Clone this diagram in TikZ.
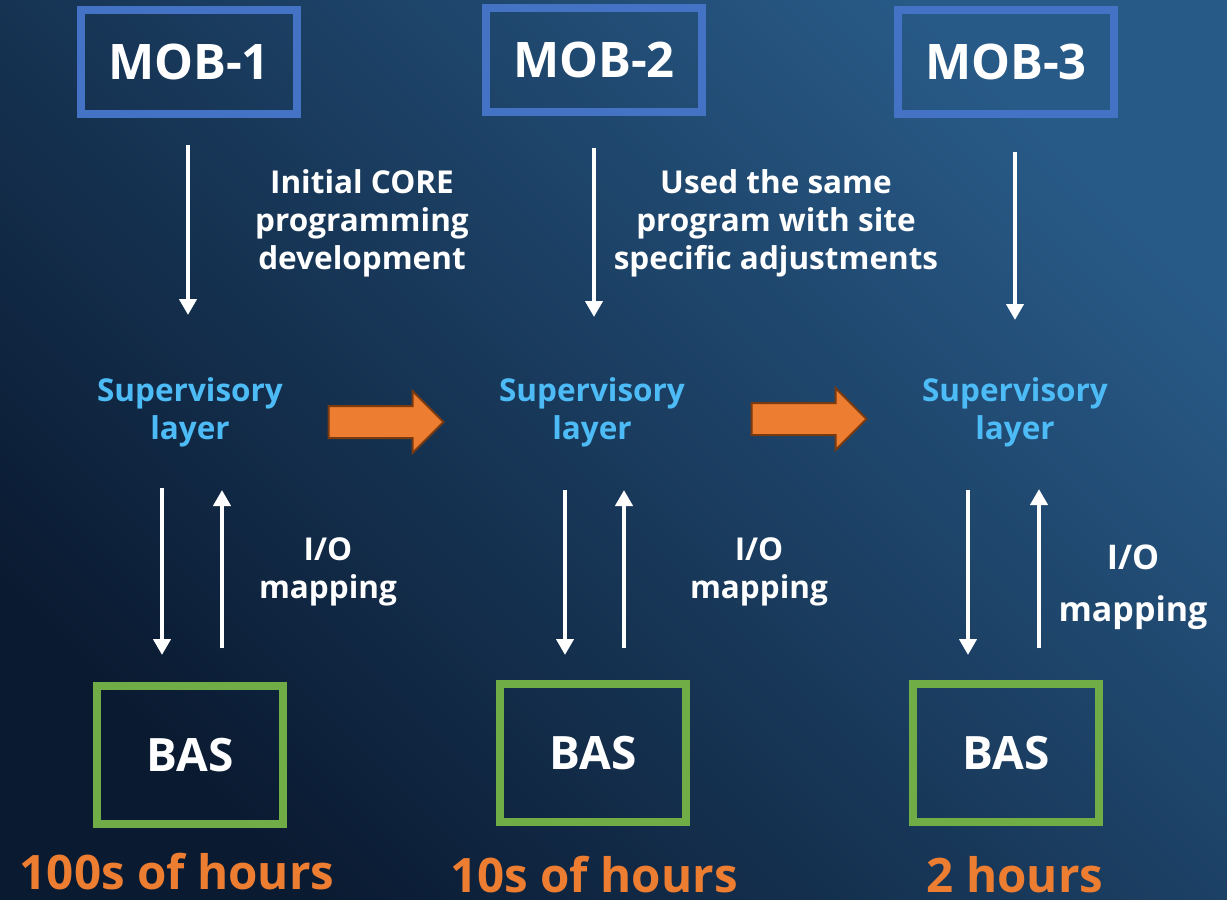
\documentclass[tikz,border=0pt]{standalone}
\usepackage{fontspec}
\setmainfont{Open Sans}
\usetikzlibrary{arrows.meta,shapes.arrows,calc}
\definecolor{bgdark}{HTML}{0A1A31}
\definecolor{bglight}{HTML}{285A87}
\definecolor{mobblue}{HTML}{4472C4}
\definecolor{basgreen}{HTML}{70AD47}
\definecolor{supblue}{HTML}{4DBBF5}
\definecolor{hourorange}{HTML}{ED7D31}
\definecolor{arrowedge}{HTML}{7A3A10}

\begin{document}
\begin{tikzpicture}[x=1pt,y=-1pt,
  mobbox/.style={draw=mobblue,line width=8pt,minimum width=216pt,minimum height=104pt,
    text=white,font=\fontsize{49}{56}\selectfont\bfseries},
  basbox/.style={draw=basgreen,line width=8pt,minimum width=186pt,minimum height=138pt,
    text=white,font=\fontsize{46}{54}\selectfont\bfseries},
  suplabel/.style={text=supblue,align=center,font=\fontsize{31.5}{38}\selectfont\bfseries},
  note/.style={text=white,align=center,font=\fontsize{31.5}{38}\selectfont\bfseries},
  hours/.style={text=hourorange,font=\fontsize{47.5}{54}\selectfont\bfseries},
  wa/.style={draw=white,line width=4.5pt,-{Triangle[width=17pt,length=16pt]}},
  blockarrow/.style={single arrow,draw=arrowedge,fill=hourorange,line width=2pt,
    minimum height=115pt,inner xsep=0pt,inner ysep=15pt,single arrow head extend=15pt}
]
% background
\shade[top color=bglight,bottom color=bgdark,shading angle=-45] (0,0) rectangle (1227,900);
\useasboundingbox (0,0) rectangle (1227,900);

% top row
\node (mob1) [mobbox] at (189,62) {MOB-1};
\node (mob2) [mobbox] at (594,60) {MOB-2};
\node (mob3) [mobbox] at (1006,62) {MOB-3};

% supervisory layers
\node (sup1) [suplabel] at (190,412) {Supervisory\\layer};
\node (sup2) [suplabel] at (592,412) {Supervisory\\layer};
\node (sup3) [suplabel] at (1015,412) {Supervisory\\layer};

% BAS boxes
\node (bas1) [basbox] at (190,755) {BAS};
\node (bas2) [basbox] at (593,753) {BAS};
\node (bas3) [basbox] at (1006,753) {BAS};

% notes
\node (core) [note] at (362,223) {Initial CORE\\programming\\development};
\node (same) [note] at (776,223) {Used the same\\program with site\\specific adjustments};
\node (io1) [note] at (328,572) {I/O\\mapping};
\node (io2) [note] at (759,572) {I/O\\mapping};
\node (io3) [note,font=\fontsize{34}{52}\selectfont\bfseries] at (1133,587) {I/O\\mapping};

% hours
\node (h1) [hours] at (177,872) {100s of hours};
\node (h2) [hours] at (594,875) {10s of hours};
\node (h3) [hours] at (1015,875) {2 hours};

% MOB to supervisory
\draw[wa] ($(sup1.center)+(-2,-267)$) -- ($(sup1.center)+(-2,-97)$);
\draw[wa] ($(sup2.center)+(2,-264)$) -- ($(sup2.center)+(2,-95)$);
\draw[wa] ($(sup3.center)+(0,-260)$) -- ($(sup3.center)+(0,-92)$);

% I/O mapping
\draw[wa] ($(bas1.center)+(-28,-267)$) -- ($(bas1.center)+(-28,-100)$);
\draw[wa] ($(bas1.center)+(32,-107)$) -- ($(bas1.center)+(32,-265)$);
\draw[wa] ($(bas2.center)+(-28,-263)$) -- ($(bas2.center)+(-28,-98)$);
\draw[wa] ($(bas2.center)+(31,-105)$) -- ($(bas2.center)+(31,-263)$);
\draw[wa] ($(bas3.center)+(-38,-263)$) -- ($(bas3.center)+(-38,-98)$);
\draw[wa] ($(bas3.center)+(33,-105)$) -- ($(bas3.center)+(33,-264)$);

% hand over
\node (arr1) [blockarrow] at (378,422) {};
\node (arr2) [blockarrow] at (801,419) {};
\end{tikzpicture}
\end{document}
